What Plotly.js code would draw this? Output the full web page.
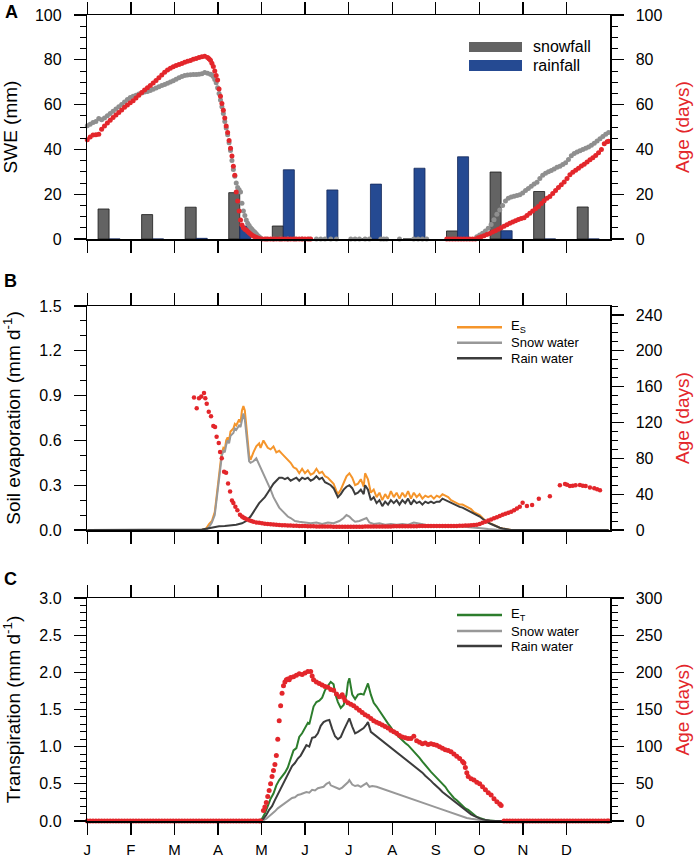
<!DOCTYPE html>
<html><head><meta charset="utf-8">
<script src="https://cdn.plot.ly/plotly-3.0.1.min.js"></script>
<style>html,body{margin:0;padding:0;background:#fff}#chart{width:699px;height:858px}</style>
</head><body><div id="chart"></div>
<script>
// ---------- DATA ----------
const monthLabels = ['J','F','M','A','M','J','J','A','S','O','N','D'];
const snowfall = [13.4,10.9,14.2,20.7,5.8,0,0,0,3.6,29.9,21.2,14.3];
const rainfall = [0,0,0.3,5.8,30.9,21.9,24.5,31.6,36.7,3.7,0,0];

// Panel A: SWE (mm) [day, value]
const swePts = [[0,50.6],[2,51.2],[4,52.0],[6,52.5],[8,53.8],[10,53.2],[12,54.0],[14,55.0],[16,56.0],[18,57.0],[20,58.0],[22,59.0],[24,60.0],[26,61.2],[28,62.3],[30,63.2],[32,63.7],[34,64.2],[36,64.7],[38,65.2],[40,65.6],[42,65.9],[44,66.3],[46,66.8],[48,67.4],[50,68.0],[52,68.5],[54,69.0],[56,69.5],[58,70.1],[60,70.7],[62,71.3],[64,72.0],[66,72.6],[68,73.0],[70,73.2],[72,73.3],[74,73.4],[76,73.4],[78,73.5],[80,73.8],[82,74.3],[84,74.0],[86,73.6],
[87,73.2],[88,72.5],[89,71.2],[90,69.7],[91,67.5],[92,65.0],[93,62.0],[94,59.0],[95,56.0],[96,52.5],[97,49.5],[98,46.5],[99,43.0],[100,39.5],[101,35.0],[102,31.0],[103,28.0],[104,25.0],[105,23.0],[106,22.0],[107,21.0],[108,16.0],[109,12.5],[110,10.5],[111,8.5],[112,7.0],[113,6.0],[114,5.0],[115,4.3],[116,3.6],[117,3.0],[118,2.3],[119,1.6],[120,1.0],[121,0.5],
[125,0],[130,0],[135,0],[140,0],[145,0],[150,0],[155,0],[160,0],[163,0],[166,0],[170,0],[174,0],[184,0],[187,0],[190,0],[194,0],[197,0],[205,0],[207,0],[209,0],[218,0],[228,0],[231,0],[234,0],[237,0],
[272,1.0],[274,1.8],[276,2.6],[278,3.6],[280,4.8],[282,6.5],[284,8.6],[286,11.0],[288,13.0],[290,15.0],[292,17.0],[294,18.2],[296,18.8],[298,19.1],[300,19.4],[302,19.7],[304,20.5],[306,21.6],[308,22.5],[310,23.5],[312,24.5],[314,25.3],[316,27.0],[318,28.5],[320,29.3],[322,30.0],[324,30.6],[326,31.3],[328,32.0],[330,32.5],[332,33.3],[334,34.0],[336,35.5],[338,37.2],[340,38.2],[342,38.8],[344,39.4],[346,39.9],[348,40.5],[350,41.1],[352,41.8],[354,42.8],[356,43.8],[358,44.8],[360,45.8],[362,46.8],[364,47.6]];

// Panel A: snow age (days)
const ageAPts = [[0,44.3],[2,45.5],[4,46.4],[6,46.5],[8,46.8],[10,49.0],[12,50.5],[14,51.8],[16,53.0],[18,54.2],[20,55.4],[22,56.5],[24,57.6],[26,58.8],[28,59.8],[30,60.8],[32,61.7],[34,63.0],[36,64.2],[38,65.4],[40,66.5],[42,67.5],[44,68.5],[46,69.6],[48,70.8],[50,72.0],[52,73.2],[54,74.4],[56,75.4],[58,76.2],[60,76.9],[62,77.4],[64,77.9],[66,78.4],[68,78.9],[70,79.3],[72,79.7],[74,80.2],[76,80.6],[78,81.0],[80,81.4],[82,81.6],[84,81.0],
[85,80.5],[86,79.8],[87,78.5],[88,77],[89,75],[90,73],[91,71],[92,67],[93,63.7],[94,60.5],[95,57.5],[96,54],[97,50.5],[98,47.5],[99,44],[100,40.5],[101,37],[102,32.5],[103,28.5],[104,21],[105,17],[106,12.5],[107,8.5],[108,6.3],[109,5],[110,4.4],[111,4],[112,3.3],[113,2.8],[114,2.2],[115,1.7],[116,1.3],[117,1],[118,0.7],[119,0.4],[120,0.2],
[122,0],[124,0],[126,0],[128,0],[130,0],[132,0],[134,0],[136,0],[138,0],[140,0],[142,0],[144,0],[146,0],[148,0],[150,0],[152,0],[154,0],[156,0],
[251,0],[253,0],[255,0],[257,0],[259,0],[261,0],[263,0],[265,0],[267,0],[269,0],[271,0],
[273,0.6],[275,1.0],[277,1.4],[279,2.0],[281,2.5],[283,3.1],[285,3.7],[287,4.3],[289,5.0],[291,5.7],[293,6.4],[295,7.0],[297,7.6],[299,8.2],[301,8.7],[303,9.1],[305,9.5],[307,10.5],[309,11.5],[311,12.5],[313,13.5],[315,14.5],[317,15.8],[319,17.1],[321,18.2],[323,19.0],[325,20.3],[327,21.6],[329,23.0],[331,24.2],[333,25.5],[335,27.0],[337,28.7],[339,29.8],[341,30.7],[343,31.6],[345,32.6],[347,33.4],[349,34.4],[351,35.4],[353,36.3],[355,37.3],[357,38.5],[359,39.9],[361,42.5],[363,43.4],[364,43.6]];

// Panel B: soil evaporation (mm/d)
const esPts = [[0,0],[80,0],[83,0.01],[85,0.04],[87,0.06],[89,0.12],[90,0.2],[91,0.3],[92,0.38],[93,0.45],[94,0.52],[95,0.55],[96,0.54],[97,0.6],[98,0.62],[99,0.6],[100,0.66],[102,0.68],[103,0.71],[104,0.70],[106,0.74],[107,0.72],[108,0.80],[109,0.83],[110,0.80],[111,0.72],[112,0.60],[113,0.50],[114,0.47],[116,0.52],[118,0.56],[120,0.58],[121,0.55],[123,0.60],[124,0.58],[126,0.55],[128,0.54],[130,0.56],[132,0.52],[134,0.53],[136,0.51],[138,0.49],[140,0.47],[142,0.45],[144,0.42],[146,0.41],[148,0.38],[150,0.41],[152,0.38],[154,0.40],[156,0.37],[158,0.38],[160,0.41],[162,0.38],[164,0.39],[166,0.36],[168,0.35],[170,0.33],[172,0.31],[174,0.26],[175,0.24],[177,0.27],[179,0.31],[181,0.36],[183,0.38],[185,0.35],[187,0.30],[189,0.31],[191,0.34],[193,0.29],[194,0.38],[196,0.34],[198,0.25],[200,0.27],[202,0.22],[204,0.25],[206,0.20],[208,0.24],[210,0.21],[212,0.26],[214,0.22],[216,0.25],[218,0.21],[220,0.25],[222,0.22],[224,0.26],[226,0.21],[228,0.25],[230,0.22],[232,0.24],[234,0.21],[236,0.23],[238,0.22],[240,0.23],[242,0.21],[244,0.23],[246,0.22],[248,0.24],[250,0.23],[252,0.22],[254,0.20],[256,0.19],[258,0.18],[260,0.17],[262,0.17],[264,0.16],[266,0.15],[268,0.14],[270,0.12],[272,0.11],[274,0.10],[276,0.08],[278,0.06],[280,0.05],[282,0.04],[284,0.03],[286,0.02],[288,0.015],[290,0.01],[293,0.005],[296,0],[364,0]];
const esSnowPts = [[0,0],[83,0],[85,0.02],[87,0.05],[89,0.1],[90,0.18],[91,0.28],[92,0.37],[93,0.44],[94,0.5],[95,0.53],[96,0.52],[97,0.57],[98,0.6],[99,0.58],[100,0.63],[102,0.65],[103,0.68],[104,0.67],[106,0.7],[107,0.69],[108,0.75],[109,0.78],[110,0.74],[111,0.65],[112,0.53],[113,0.46],[114,0.45],[116,0.46],[118,0.48],[120,0.44],[122,0.40],[124,0.36],[126,0.32],[128,0.27],[130,0.22],[132,0.18],[134,0.15],[136,0.13],[138,0.11],[140,0.09],[142,0.08],[145,0.06],[148,0.055],[152,0.05],[156,0.045],[160,0.05],[164,0.04],[168,0.05],[172,0.045],[176,0.06],[179,0.08],[181,0.1],[183,0.09],[185,0.07],[187,0.055],[190,0.06],[193,0.07],[195,0.08],[197,0.05],[200,0.04],[204,0.045],[208,0.035],[212,0.04],[216,0.035],[220,0.04],[224,0.035],[228,0.05],[232,0.04],[236,0.035],[240,0.03],[245,0.03],[250,0.028],[255,0.027],[260,0.025],[265,0.02],[270,0.018],[275,0.012],[280,0.006],[284,0.002],[288,0],[364,0]];
const esRainPts = [[0,0],[78,0],[80,0.003],[84,0.01],[88,0.02],[92,0.025],[96,0.027],[100,0.03],[104,0.035],[108,0.045],[111,0.06],[114,0.09],[116,0.12],[118,0.15],[120,0.18],[122,0.20],[124,0.22],[126,0.25],[128,0.28],[130,0.31],[132,0.33],[134,0.35],[136,0.35],[138,0.34],[140,0.35],[142,0.33],[144,0.34],[146,0.35],[148,0.33],[150,0.35],[152,0.34],[154,0.35],[156,0.33],[158,0.34],[160,0.36],[162,0.34],[164,0.35],[166,0.32],[168,0.31],[170,0.30],[172,0.28],[174,0.24],[175,0.22],[177,0.24],[179,0.27],[181,0.29],[183,0.30],[185,0.28],[187,0.24],[189,0.25],[191,0.27],[193,0.24],[194,0.30],[196,0.27],[198,0.20],[200,0.22],[202,0.18],[204,0.20],[206,0.16],[208,0.19],[210,0.17],[212,0.20],[214,0.18],[216,0.20],[218,0.17],[220,0.20],[222,0.18],[224,0.21],[226,0.17],[228,0.20],[230,0.18],[232,0.19],[234,0.17],[236,0.19],[238,0.18],[240,0.19],[242,0.18],[244,0.19],[246,0.19],[248,0.21],[250,0.20],[252,0.19],[254,0.18],[256,0.17],[258,0.16],[260,0.155],[262,0.15],[264,0.14],[266,0.135],[268,0.12],[270,0.11],[272,0.10],[274,0.09],[276,0.075],[278,0.06],[280,0.05],[282,0.04],[284,0.03],[286,0.02],[288,0.015],[290,0.01],[293,0.005],[296,0],[364,0]];
const ageBPts = [[74.5,148],[76.4,136],[78,147],[79.6,149],[81.5,153],[82.4,147],[83.4,141],[84.8,132],[86.4,127],[88,116],[89.2,115],[90.3,104],[91.8,97],[92.7,87],[93.9,80],[95.5,65],[96.9,64],[98.3,52],[99.7,43],[101,33],[102,30],[103.4,26],[104.8,22],[106.6,17],[108,15],[109,14],[110,13],[111.3,12],[113,11],[114.5,10],[116,9.3],[118,8.5],[120,8.0],[122,7.4],[124,7.0],[126,6.6],[128,6.3],[130,6.1],[132,5.9],[134,5.6],[136,5.3],[138,5.2],[140,5.0],[142,4.9],[144,4.8],[146,4.7],[148,4.6],[150,4.5],[152,4.4],[154,4.3],[156,4.2],[158,4.1],[160,4.0],[162,4.0],[164,3.9],[166,3.9],[168,3.8],[170,3.8],[172,3.7],[174,3.7],[176,3.7],[178,3.7],[180,3.7],[182,3.7],[184,3.7],[186,3.7],[188,3.7],[190,3.7],[192,3.7],[194,3.8],[196,3.8],[198,3.8],[200,3.8],[202,3.9],[204,3.9],[206,3.9],[208,4.0],[210,4.0],[212,4.0],[214,4.1],[216,4.1],[218,4.1],[220,4.2],[222,4.2],[224,4.2],[226,4.3],[228,4.3],[230,4.3],[232,4.4],[234,4.4],[236,4.4],[238,4.4],[240,4.5],[242,4.5],[244,4.5],[246,4.5],[248,4.5],[250,4.5],[252,4.5],[254,4.5],[256,4.6],[258,4.6],[260,4.7],[262,4.8],[264,4.9],[266,5.1],[268,5.3],[270,5.5],[272,5.8],[274,6.8],[276,8.0],[278,9.2],[280,10.5],[282,11.8],[284,13.0],[286,14.1],[288,15.5],[290,17.0],[292,18.0],[294,19.3],[296,20.5],[298,22.0],[300,24.0],[302,26.0],[304,30.4],[307,26.7],[310.6,27.8],[315.3,35.0],[323,37.8],[330,50.0],[333.6,51.2],[335,50.5],[337,49.0],[339,49.5],[341,50.0],[344,50.2],[346,49.5],[348,49.0],[351,47.5],[354,46.5],[356,45.5],[358,44.5]];

// Panel C: transpiration (mm/d)
const etPts = [[0,0],[120,0],[122,0.03],[124,0.1],[126,0.2],[128,0.3],[130,0.37],[132,0.48],[134,0.55],[136,0.6],[138,0.65],[140,0.72],[142,0.85],[144,0.95],[146,0.98],[148,1.13],[150,1.18],[152,1.25],[154,1.32],[155,1.30],[157,1.46],[158,1.54],[160,1.60],[162,1.62],[164,1.66],[166,1.76],[168,1.82],[170,1.87],[172,1.84],[173,1.72],[175,1.60],[177,1.52],[179,1.56],[181,1.70],[182,1.86],[183,1.92],[185,1.70],[187,1.64],[189,1.70],[191,1.71],[193,1.70],[195,1.81],[196,1.85],[198,1.70],[200,1.59],[202,1.54],[204,1.48],[206,1.42],[208,1.37],[210,1.31],[212,1.26],[214,1.20],[216,1.16],[218,1.12],[220,1.09],[222,1.05],[224,1.02],[226,0.98],[228,0.94],[230,0.89],[232,0.85],[234,0.80],[236,0.75],[238,0.70],[240,0.66],[242,0.62],[244,0.58],[246,0.54],[248,0.50],[250,0.46],[252,0.40],[254,0.35],[256,0.31],[258,0.28],[260,0.24],[262,0.20],[264,0.17],[266,0.15],[268,0.12],[270,0.08],[272,0.055],[274,0.04],[276,0.025],[278,0.015],[281,0.008],[285,0],[364,0]];
const etSnowPts = [[0,0],[121,0],[123,0.01],[125,0.03],[127,0.06],[129,0.1],[131,0.13],[133,0.17],[135,0.2],[137,0.23],[139,0.26],[141,0.28],[143,0.31],[145,0.32],[147,0.35],[149,0.36],[151,0.38],[153,0.39],[155,0.38],[157,0.42],[159,0.41],[161,0.44],[163,0.45],[165,0.46],[167,0.50],[169,0.52],[170,0.48],[172,0.46],[174,0.44],[176,0.43],[178,0.45],[180,0.48],[182,0.52],[183,0.55],[185,0.49],[187,0.47],[189,0.48],[191,0.46],[193,0.48],[195,0.51],[197,0.46],[199,0.47],[202,0.46],[205,0.44],[208,0.42],[211,0.41],[214,0.39],[217,0.37],[220,0.35],[223,0.33],[226,0.31],[229,0.29],[232,0.27],[235,0.25],[238,0.22],[241,0.2],[244,0.18],[247,0.16],[250,0.14],[253,0.12],[256,0.095],[259,0.075],[262,0.055],[265,0.04],[268,0.03],[271,0.02],[274,0.012],[277,0.007],[281,0.003],[285,0],[364,0]];
const etRainPts = [[0,0],[121,0],[123,0.03],[125,0.08],[127,0.15],[129,0.2],[131,0.28],[133,0.36],[135,0.42],[137,0.5],[139,0.58],[141,0.66],[143,0.74],[145,0.78],[147,0.84],[149,0.88],[151,0.95],[153,1.02],[155,1.0],[157,1.12],[159,1.13],[161,1.18],[163,1.28],[165,1.33],[167,1.35],[169,1.36],[171,1.24],[173,1.14],[175,1.10],[177,1.13],[179,1.22],[181,1.30],[183,1.38],[185,1.27],[187,1.18],[189,1.20],[191,1.22],[193,1.25],[195,1.30],[196,1.33],[198,1.20],[200,1.17],[202,1.14],[204,1.11],[206,1.07],[208,1.04],[210,1.01],[212,0.98],[214,0.95],[216,0.92],[218,0.89],[220,0.86],[222,0.83],[224,0.80],[226,0.77],[228,0.74],[230,0.71],[232,0.68],[234,0.65],[236,0.61],[238,0.58],[240,0.54],[242,0.50],[244,0.47],[246,0.43],[248,0.39],[250,0.36],[252,0.33],[254,0.29],[256,0.26],[258,0.23],[260,0.20],[262,0.17],[264,0.14],[266,0.12],[268,0.09],[270,0.07],[272,0.05],[274,0.035],[276,0.022],[278,0.012],[281,0.005],[285,0],[364,0]];
const ageCPts = [[0,0],[2,0],[4,0],[6,0],[8,0],[10,0],[12,0],[14,0],[16,0],[18,0],[20,0],[22,0],[24,0],[26,0],[28,0],[30,0],[32,0],[34,0],[36,0],[38,0],[40,0],[42,0],[44,0],[46,0],[48,0],[50,0],[52,0],[54,0],[56,0],[58,0],[60,0],[62,0],[64,0],[66,0],[68,0],[70,0],[72,0],[74,0],[76,0],[78,0],[80,0],[82,0],[84,0],[86,0],[88,0],[90,0],[92,0],[94,0],[96,0],[98,0],[100,0],[102,0],[104,0],[106,0],[108,0],[110,0],[112,0],[114,0],[116,0],[118,0],[120,0],[121,0],
[123,14],[124,19],[125,25],[126,33],[127,41],[128,50],[129,60],[130,68],[131,76],[132,88],[133,110],[134,135],[135,155],[136,172],[137,182],[138,187],[139,190],[140,191],[141,190],[142,193],[144,194],[146,196],[148,198],[150,197],[152,199],[154,201],[156,201],[157,195],[158,190],[160,187],[162,185],[164,183],[166,181],[168,180],[170,177],[172,176],[174,171],[176,167],[178,170],[179,166],[180,162],[182,159],[184,157],[186,155],[188,152],[190,149],[192,146],[194,143],[196,141],[198,138],[200,135],[202,133],[204,131],[206,129],[208,127],[210,125],[212,122],[214,120],[216,118],[218,115],[220,113],[222,112],[224,111],[226,111],[228,114],[230,108],[232,106],[234,104],[236,105],[238,103],[240,104],[242,103],[244,102],[246,100],[248,98],[250,96],[252,95],[254,93],[256,90],[258,87],[260,84],[262,80],[263,78],[264,72],[265,65],[266,60],[268,57],[270,55],[272,52],[274,50],[276,46],[278,42],[280,38],[282,35],[284,30],[286,26],[288,23],[289,21],
[291,0],[293,0],[295,0],[297,0],[299,0],[301,0],[303,0],[305,0],[307,0],[309,0],[311,0],[313,0],[315,0],[317,0],[319,0],[321,0],[323,0],[325,0],[327,0],[329,0],[331,0],[333,0],[335,0],[337,0],[339,0],[341,0],[343,0],[345,0],[347,0],[349,0],[351,0],[353,0],[355,0],[357,0],[359,0],[361,0],[363,0],[364,0]];

// ---------- LAYOUT HELPERS ----------
const W = 699, H = 858;
const FONT = 'Liberation Sans, Arial, Helvetica, sans-serif';
const RED = '#e3262b', SWEGRAY = '#8f8f8f', SNOWBAR = '#636363', RAINBAR = '#254a92';
const ORANGE = '#f5952b', LIGHT = '#989898', DARK = '#3c3c3c', GREEN = '#2c7d2c';
const px = v => v / W, py = v => 1 - v / H;
const xDom = [px(87.3), px(610)];
const domA = [py(239), py(15)], domB = [py(530), py(306)], domC = [py(821), py(598)];
const nDays = 365;
const monthTicks = monthLabels.map((m, i) => i * nDays / 12);
const barX = monthLabels.map((m, i) => (i + 0.5) * nDays / 12);
const xs = pts => pts.map(p => p[0]);
const ys = pts => pts.map(p => p[1]);

function xAx(anchor, labels) {
  return {domain: xDom, anchor: anchor, range: [0, nDays], tickvals: monthTicks, ticktext: monthLabels,
    showticklabels: labels, ticks: 'outside', ticklen: 12, tickwidth: 1.3, tickcolor: '#000',
    showline: true, linewidth: 1.5, linecolor: '#000', mirror: 'ticks', showgrid: false, zeroline: false,
    ticklabelstandoff: 2, tickfont: {size: 15, color: '#000'}};
}
function yAx(dom, anchor, range, dtick, minor, fmt, title, standoff) {
  return {domain: dom, anchor: anchor, range: range, dtick: dtick, tick0: 0, tickformat: fmt,
    ticks: 'outside', ticklen: 12, tickwidth: 1.3, tickcolor: '#000',
    minor: {dtick: minor, ticks: 'outside', ticklen: 6, tickwidth: 1, tickcolor: '#000'},
    showline: true, linewidth: 1.5, linecolor: '#000', showgrid: false, zeroline: false,
    ticklabelstandoff: 9, tickfont: {size: 16, color: '#000'},
    title: {text: title, font: {size: 19, color: '#000'}, standoff: standoff}};
}
function yAxR(overlay, anchor, range, dtick, minor, tickvals) {
  const a = {overlaying: overlay, side: 'right', anchor: anchor, range: range, tick0: 0,
    ticks: 'outside', ticklen: 12, tickwidth: 1.3, tickcolor: '#000',
    minor: {dtick: minor, ticks: 'outside', ticklen: 6, tickwidth: 1, tickcolor: '#000'},
    showline: true, linewidth: 1.5, linecolor: '#000', showgrid: false, zeroline: false,
    ticklabelstandoff: 9, tickfont: {size: 16, color: '#000'},
    title: {text: 'Age (days)', font: {size: 19, color: RED}, standoff: 14}};
  if (tickvals) { a.tickmode = 'array'; a.tickvals = tickvals; } else { a.dtick = dtick; }
  return a;
}

const ageBTicks = [0, 40, 80, 120, 160, 200, 240];

const traces = [
  {type: 'bar', name: 'snowfall', x: barX, y: snowfall, xaxis: 'x', yaxis: 'y', width: 7.7, offset: -7.7,
   marker: {color: SNOWBAR, line: {color: '#1a1a1a', width: 0.8}}},
  {type: 'bar', name: 'rainfall', x: barX, y: rainfall, xaxis: 'x', yaxis: 'y', width: 7.7, offset: 0,
   marker: {color: RAINBAR, line: {color: '#14285a', width: 0.8}}},
  {type: 'scatter', mode: 'markers', name: 'SWE', x: xs(swePts), y: ys(swePts), xaxis: 'x', yaxis: 'y',
   marker: {color: SWEGRAY, size: 5}, cliponaxis: false},
  {type: 'scatter', mode: 'markers', name: 'Age', x: xs(ageAPts), y: ys(ageAPts), xaxis: 'x', yaxis: 'y2',
   marker: {color: RED, size: 5}, cliponaxis: false},

  {type: 'scatter', mode: 'lines', name: 'E_S', x: xs(esPts), y: ys(esPts), xaxis: 'x2', yaxis: 'y3',
   line: {color: ORANGE, width: 2}},
  {type: 'scatter', mode: 'lines', name: 'Snow water', x: xs(esSnowPts), y: ys(esSnowPts), xaxis: 'x2', yaxis: 'y3',
   line: {color: LIGHT, width: 2}},
  {type: 'scatter', mode: 'lines', name: 'Rain water', x: xs(esRainPts), y: ys(esRainPts), xaxis: 'x2', yaxis: 'y3',
   line: {color: DARK, width: 2}},
  {type: 'scatter', mode: 'markers', name: 'Age', x: xs(ageBPts), y: ys(ageBPts), xaxis: 'x2', yaxis: 'y4',
   marker: {color: RED, size: 4.5}, cliponaxis: false},

  {type: 'scatter', mode: 'lines', name: 'E_T', x: xs(etPts), y: ys(etPts), xaxis: 'x3', yaxis: 'y5',
   line: {color: GREEN, width: 2}},
  {type: 'scatter', mode: 'lines', name: 'Snow water', x: xs(etSnowPts), y: ys(etSnowPts), xaxis: 'x3', yaxis: 'y5',
   line: {color: LIGHT, width: 2}},
  {type: 'scatter', mode: 'lines', name: 'Rain water', x: xs(etRainPts), y: ys(etRainPts), xaxis: 'x3', yaxis: 'y5',
   line: {color: DARK, width: 2}},
  {type: 'scatter', mode: 'markers', name: 'Age', x: xs(ageCPts), y: ys(ageCPts), xaxis: 'x3', yaxis: 'y6',
   marker: {color: RED, size: 5}, cliponaxis: false}
];

// Custom legends (paper coordinates)
const shapes = [
  {type: 'rect', xref: 'paper', yref: 'paper', x0: px(469), x1: px(522), y0: py(52), y1: py(42), fillcolor: SNOWBAR, line: {width: 0}},
  {type: 'rect', xref: 'paper', yref: 'paper', x0: px(469), x1: px(522), y0: py(71), y1: py(60), fillcolor: RAINBAR, line: {width: 0}},
  {type: 'line', xref: 'paper', yref: 'paper', x0: px(457), x1: px(502), y0: py(327.3), y1: py(327.3), line: {color: ORANGE, width: 2.5}},
  {type: 'line', xref: 'paper', yref: 'paper', x0: px(457), x1: px(502), y0: py(342.7), y1: py(342.7), line: {color: LIGHT, width: 2.5}},
  {type: 'line', xref: 'paper', yref: 'paper', x0: px(457), x1: px(502), y0: py(358.3), y1: py(358.3), line: {color: DARK, width: 2.5}},
  {type: 'line', xref: 'paper', yref: 'paper', x0: px(457), x1: px(502), y0: py(615), y1: py(615), line: {color: GREEN, width: 2.5}},
  {type: 'line', xref: 'paper', yref: 'paper', x0: px(457), x1: px(502), y0: py(631), y1: py(631), line: {color: LIGHT, width: 2.5}},
  {type: 'line', xref: 'paper', yref: 'paper', x0: px(457), x1: px(502), y0: py(646), y1: py(646), line: {color: DARK, width: 2.5}}
];
const ann = (text, x, y, size, extra) => Object.assign({text: text, xref: 'paper', yref: 'paper', x: px(x), y: py(y),
  xanchor: 'left', yanchor: 'middle', showarrow: false, font: {size: size, color: '#000'}}, extra || {});
const annotations = [
  ann('snowfall', 531, 47, 16), ann('rainfall', 531, 65.5, 16),
  ann('E<sub>S</sub>', 509, 327, 13), ann('Snow water', 509, 342.7, 13), ann('Rain water', 509, 358.3, 13),
  ann('E<sub>T</sub>', 509, 614, 13), ann('Snow water', 509, 631, 13), ann('Rain water', 509, 646, 13),
  ann('<b>A</b>', 3, 12.5, 18), ann('<b>B</b>', 2, 281, 18), ann('<b>C</b>', 2, 579, 18)
];

const layout = {
  width: W, height: H, margin: {l: 0, r: 0, t: 0, b: 0}, paper_bgcolor: '#fff', plot_bgcolor: 'rgba(0,0,0,0)',
  font: {family: FONT, color: '#000'}, showlegend: false, barmode: 'overlay',
  xaxis: xAx('y', false), xaxis2: xAx('y3', false), xaxis3: xAx('y5', true),
  yaxis: yAx(domA, 'x', [0, 100], 20, 5, 'd', 'SWE (mm)', 13),
  yaxis2: yAxR('y', 'x', [0, 100], 20, 5),
  yaxis3: yAx(domB, 'x2', [0, 1.5], 0.3, 0.1, '.1f', 'Soil evaporation (mm d<sup>-1</sup>)', 13),
  yaxis4: yAxR('y3', 'x2', [0, 250], 40, 10, ageBTicks),
  yaxis5: yAx(domC, 'x3', [0, 3], 0.5, 0.1, '.1f', 'Transpiration (mm d<sup>-1</sup>)', 13),
  yaxis6: yAxR('y5', 'x3', [0, 300], 50, 10),
  shapes: shapes, annotations: annotations
};
Plotly.newPlot('chart', traces, layout, {displayModeBar: false, staticPlot: true});
</script></body></html>
